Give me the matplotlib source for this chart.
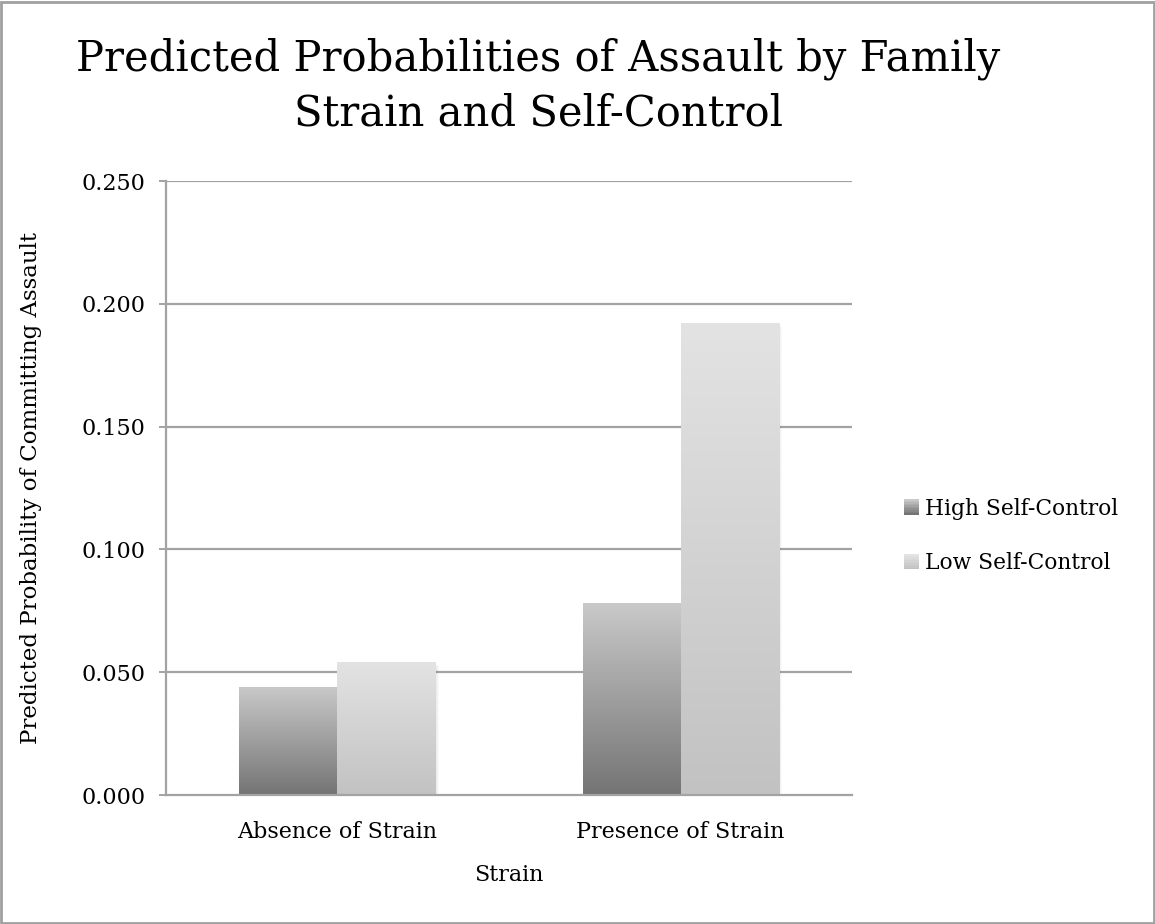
import numpy as np
import matplotlib
matplotlib.use("Agg")
from matplotlib import pyplot as plt
from matplotlib.patches import Rectangle
from matplotlib.legend_handler import HandlerBase
from matplotlib.colors import LinearSegmentedColormap

plt.rcParams['font.family'] = ['DejaVu Serif']

categories = ['Absence of Strain', 'Presence of Strain']
series = ['High Self-Control', 'Low Self-Control']
high_sc = [0.044, 0.078]
low_sc = [0.054, 0.192]
yticks = [0.0, 0.05, 0.10, 0.15, 0.20, 0.25]

# gradient (bottom colour, top colour) per series
grads = [('#747474', '#c9c9c9'), ('#c2c2c2', '#e3e3e3')]

fig = plt.figure(figsize=(11.55, 9.24), dpi=100)
ax = fig.add_axes([0.1437, 0.1396, 0.594, 0.6645])

x = np.arange(len(categories))
w = 1 / 3.5
grey = '#a3a3a3'
fs = 16

for yt in yticks[1:]:
    ax.axhline(yt, color=grey, lw=1.6, zorder=0)

for k, vals in enumerate([high_sc, low_sc]):
    offs = x + (k - 0.5) * w
    # soft shadow
    for s in range(1, 5):
        ax.bar(offs + s * 0.0025, vals, w, bottom=-s * 0.0004, color='k',
               alpha=0.025, zorder=1, linewidth=0)
    bars = ax.bar(offs, vals, w, color='none', linewidth=0, zorder=2,
                  label=series[k])
    cmap = LinearSegmentedColormap.from_list('g%d' % k, grads[k])
    for b in bars:
        x0, y0 = b.get_x(), b.get_y()
        x1, y1 = x0 + b.get_width(), y0 + b.get_height()
        im = ax.imshow(np.linspace(0, 1, 256).reshape(-1, 1), cmap=cmap,
                       origin='lower', extent=[x0, x1, y0, y1],
                       aspect='auto', zorder=2, interpolation='bilinear')
        im.set_clip_path(b)

ax.set_xlim(-0.5, 1.5)
ax.set_ylim(0, 0.25)
ax.set_xticks(x)
ax.set_xticklabels(categories)
ax.set_yticks(yticks)
ax.set_yticklabels(['%.3f' % v for v in yticks])
ax.tick_params(axis='x', length=0, labelsize=fs, pad=19)
ax.tick_params(axis='y', length=5, width=1.4, color=grey, labelsize=fs, pad=10)
for sp in ['top', 'right']:
    ax.spines[sp].set_visible(False)
for sp in ['left', 'bottom']:
    ax.spines[sp].set_color(grey)
    ax.spines[sp].set_linewidth(1.6)
ax.spines['bottom'].set_zorder(3)

ax.set_xlabel('Strain', fontsize=fs)
ax.xaxis.set_label_coords(0.5, -0.112)
ax.set_ylabel('Predicted Probability of Committing Assault', fontsize=16.5)
ax.yaxis.set_label_coords(-0.181, 0.5)

fig.text(0.466, 0.907, 'Predicted Probabilities of Assault by Family\nStrain and Self-Control',
         ha='center', va='center', fontsize=30, linespacing=1.36)


class GradHandler(HandlerBase):
    def __init__(self, cols):
        super().__init__()
        self.cols = cols

    def create_artists(self, legend, orig_handle, xdescent, ydescent,
                       width, height, fontsize, trans):
        cmap = LinearSegmentedColormap.from_list('h', self.cols)
        side = 11
        x0 = width - side
        y0 = (height - side) / 2 - ydescent
        n = 10
        arts = []
        for i in range(n):
            arts.append(Rectangle((x0, y0 + i * side / n), side, side / n + 0.3,
                                  facecolor=cmap(i / (n - 1)), linewidth=0,
                                  transform=trans))
        return arts


handles = ax.containers
leg = fig.legend(handles, series, loc='center left',
                 bbox_to_anchor=(0.763, 0.42), frameon=False, fontsize=15.7,
                 handlelength=0.85, handletextpad=0.25, labelspacing=1.5,
                 handler_map={handles[0]: GradHandler(grads[0]),
                              handles[1]: GradHandler(grads[1])})

fig.patches.append(Rectangle((0.001, 0.001), 0.998, 0.997, transform=fig.transFigure,
                             fill=False, edgecolor='#a0a0a0', linewidth=2))

fig.savefig('out.png', dpi=100)
